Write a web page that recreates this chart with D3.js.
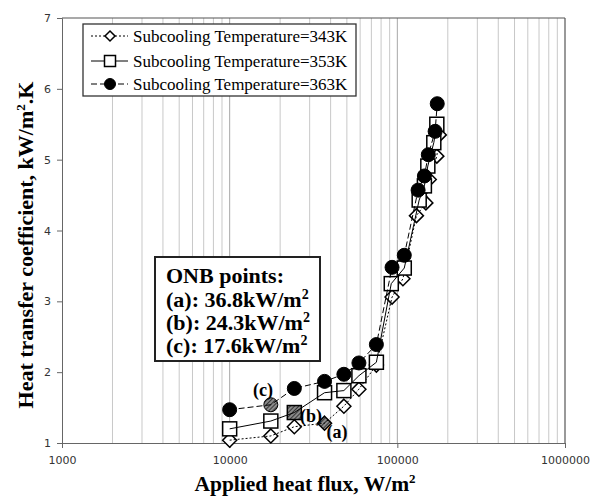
<!DOCTYPE html>
<html>
<head>
<meta charset="utf-8">
<script src="https://cdn.jsdelivr.net/npm/d3@7"></script>
<style>
  body { margin: 0; background: #fff; }
  svg { display: block; }
</style>
</head>
<body>
<script>
// ---- data
var flux343 = [10000, 17600, 24300, 36800, 48000, 59000, 75000, 93000, 108000, 130000, 148000, 155000, 172000, 178000];
var htc343  = [1.04, 1.10, 1.23, 1.28, 1.52, 1.76, 2.10, 3.06, 3.32, 4.21, 4.39, 4.72, 5.05, 5.35];

var flux353 = [10000, 17600, 24300, 36800, 48000, 59000, 75000, 92000, 110000, 135000, 145000, 152000, 165000, 172000];
var htc353  = [1.20, 1.31, 1.43, 1.71, 1.74, 1.95, 2.14, 3.25, 3.47, 4.43, 4.63, 4.91, 5.24, 5.50];

var flux363 = [10000, 17600, 24300, 36800, 48000, 59000, 75000, 93000, 110000, 133000, 145000, 153000, 168000, 173000];
var htc363  = [1.47, 1.54, 1.77, 1.87, 1.97, 2.13, 2.39, 3.48, 3.65, 4.57, 4.77, 5.07, 5.40, 5.79];

var seriesNames = ["Subcooling Temperature=343K", "Subcooling Temperature=353K", "Subcooling Temperature=363K"];
var onbIndex = [3, 2, 1];          // hatched ONB point of each series
var onbTags = ["(a)", "(b)", "(c)"];
var onbLines = ["ONB points:", "(a): 36.8kW/m", "(b): 24.3kW/m", "(c): 17.6kW/m"];

var xTicks = [1000, 10000, 100000, 1000000];
var yTicks = [1, 2, 3, 4, 5, 6, 7];

// ---- layout
var W = 599, H = 497;
var margin = {top: 18, right: 34, bottom: 54, left: 62};

var svg = d3.select("body").append("svg")
  .attr("width", W).attr("height", H);

var x = d3.scaleLog().domain([1000, 1000000]).range([margin.left, W - margin.right]);
var y = d3.scaleLinear().domain([1, 7]).range([H - margin.bottom, margin.top]);

// hatch pattern for ONB points
var defs = svg.append("defs");
var pat = defs.append("pattern")
  .attr("id", "hatch").attr("patternUnits", "userSpaceOnUse")
  .attr("width", 3).attr("height", 3)
  .attr("patternTransform", "rotate(45)");
pat.append("rect").attr("width", 3).attr("height", 3).attr("fill", "#8a8a8a");
pat.append("line").attr("x1", 0).attr("y1", 0).attr("x2", 0).attr("y2", 3)
  .attr("stroke", "#111").attr("stroke-width", 1.4);

// vertical grid lines (log minors)
var gridVals = [];
for (var d = 1000; d < 1000000; d *= 10) {
  for (var k = 1; k <= 9; k++) if (d * k > 1000) gridVals.push(d * k);
}
svg.append("g").selectAll("line").data(gridVals).enter().append("line")
  .attr("x1", function(v) { return x(v); }).attr("x2", function(v) { return x(v); })
  .attr("y1", y(7)).attr("y2", y(1))
  .attr("stroke", function(v) { return xTicks.indexOf(v) >= 0 ? "#a8a8a8" : "#c8c8c8"; })
  .attr("stroke-width", 1);

// frame
svg.append("line").attr("x1", x(1000)).attr("x2", x(1000000)).attr("y1", y(7)).attr("y2", y(7))
  .attr("stroke", "#555").attr("stroke-width", 1.2);
svg.append("line").attr("x1", x(1000000)).attr("x2", x(1000000)).attr("y1", y(7)).attr("y2", y(1))
  .attr("stroke", "#555").attr("stroke-width", 1.2);

// axes
var xAxis = d3.axisBottom(x).tickValues(xTicks).tickFormat(d3.format("d")).tickSize(5);
var yAxis = d3.axisLeft(y).tickValues(yTicks).tickFormat(d3.format("d")).tickSize(5);

var gx = svg.append("g").attr("transform", "translate(0," + y(1) + ")").call(xAxis);
var gy = svg.append("g").attr("transform", "translate(" + x(1000) + ",0)").call(yAxis);
[gx, gy].forEach(function(g) {
  g.select(".domain").attr("stroke", "#666");
  g.selectAll(".tick line").attr("stroke", "#666");
  g.selectAll(".tick text").attr("fill", "#333")
    .style("font-family", "'DejaVu Sans', Verdana, sans-serif").style("font-size", "11px");
});
gx.selectAll(".tick text").attr("dy", "1.2em");
gy.selectAll(".tick text").attr("x", -11);

// axis titles
var xt = svg.append("text").attr("x", 305).attr("y", 491)
  .attr("text-anchor", "middle")
  .style("font-family", "'Liberation Serif', 'Times New Roman', serif")
  .style("font-weight", "bold").style("font-size", "21.5px")
  .text("Applied heat flux, W/m");
xt.append("tspan").attr("dy", -8).style("font-size", "13px").text("2");

var yt = svg.append("text")
  .attr("transform", "translate(33," + 245 + ") rotate(-90)")
  .attr("text-anchor", "middle")
  .style("font-family", "'Liberation Serif', 'Times New Roman', serif")
  .style("font-weight", "bold").style("font-size", "22px")
  .text("Heat transfer coefficient, kW/m");
yt.append("tspan").attr("dy", -8).style("font-size", "13px").text("2");
yt.append("tspan").attr("dy", 8).text(".K");

// ---- series
var series = [
  {flux: flux343, htc: htc343, dash: "2,2", shape: "diamond"},
  {flux: flux353, htc: htc353, dash: null, shape: "square"},
  {flux: flux363, htc: htc363, dash: "6,3", shape: "circle"}
];

function drawMarker(g, shape, cx, cy, s, fill) {
  if (shape === "diamond") {
    g.append("path")
      .attr("d", "M" + cx + "," + (cy - s) + "L" + (cx + s) + "," + cy + "L" + cx + "," + (cy + s) + "L" + (cx - s) + "," + cy + "Z")
      .attr("fill", fill).attr("stroke", "#000").attr("stroke-width", 1.5);
  } else if (shape === "square") {
    g.append("rect").attr("x", cx - s).attr("y", cy - s).attr("width", 2 * s).attr("height", 2 * s)
      .attr("fill", fill).attr("stroke", "#000").attr("stroke-width", 1.5);
  } else {
    g.append("circle").attr("cx", cx).attr("cy", cy).attr("r", s)
      .attr("fill", fill).attr("stroke", "#000").attr("stroke-width", 1);
  }
}

var markerSize = {diamond: 7, square: 7, circle: 7};

series.forEach(function(s, si) {
  var pts = s.flux.map(function(f, i) { return [f, s.htc[i]]; });
  var g = svg.append("g");
  var line = d3.line().x(function(p) { return x(p[0]); }).y(function(p) { return y(p[1]); });
  pts.forEach(function(p, i) {
    var fill = (i === onbIndex[si]) ? "url(#hatch)" : (s.shape === "circle" ? "#000" : "#fff");
    drawMarker(g, s.shape, x(p[0]), y(p[1]), markerSize[s.shape], fill);
  });
  var path = svg.append("path").datum(pts).attr("d", line)
    .attr("fill", "none").attr("stroke", "#000").attr("stroke-width", 1);
  if (s.dash) path.attr("stroke-dasharray", s.dash);
});

// ONB tags
var tagPos = [[337, 432], [311, 416], [263, 390]];
onbTags.forEach(function(t, i) {
  svg.append("text").attr("x", tagPos[i][0]).attr("y", tagPos[i][1] + 6)
    .attr("text-anchor", "middle")
    .style("font-family", "'Liberation Serif', 'Times New Roman', serif")
    .style("font-weight", "bold").style("font-size", "18px")
    .text(t);
});

// ---- legend
var lg = svg.append("g");
lg.append("rect").attr("x", 83).attr("y", 24).attr("width", 273).attr("height", 72)
  .attr("fill", "#fff").attr("stroke", "#333").attr("stroke-width", 1.3);
var legY = [36, 61, 84];
var legSize = {diamond: 5, square: 5.5, circle: 5.5};
series.forEach(function(s, i) {
  var ln = lg.append("line").attr("x1", 91).attr("x2", 128).attr("y1", legY[i]).attr("y2", legY[i])
    .attr("stroke", "#000").attr("stroke-width", 1);
  if (s.dash) ln.attr("stroke-dasharray", s.dash);
  drawMarker(lg, s.shape, 110, legY[i], legSize[s.shape], s.shape === "circle" ? "#000" : "#fff");
  lg.append("text").attr("x", 133).attr("y", legY[i] + 5.5)
    .style("font-family", "'Liberation Serif', 'Times New Roman', serif")
    .style("font-size", "17px")
    .text(seriesNames[i]);
});

// ---- ONB box
var ob = svg.append("g");
ob.append("rect").attr("x", 155).attr("y", 257).attr("width", 165).attr("height", 104)
  .attr("fill", "#fff").attr("stroke", "#222").attr("stroke-width", 2);
var obY = [283, 307, 330, 353];
onbLines.forEach(function(t, i) {
  var tx = ob.append("text").attr("x", 166).attr("y", obY[i])
    .style("font-family", "'Liberation Serif', 'Times New Roman', serif")
    .style("font-weight", "bold").style("font-size", "22px")
    .text(t);
  if (i > 0) tx.append("tspan").attr("dy", -8).style("font-size", "14px").text("2");
});
</script>
</body>
</html>
